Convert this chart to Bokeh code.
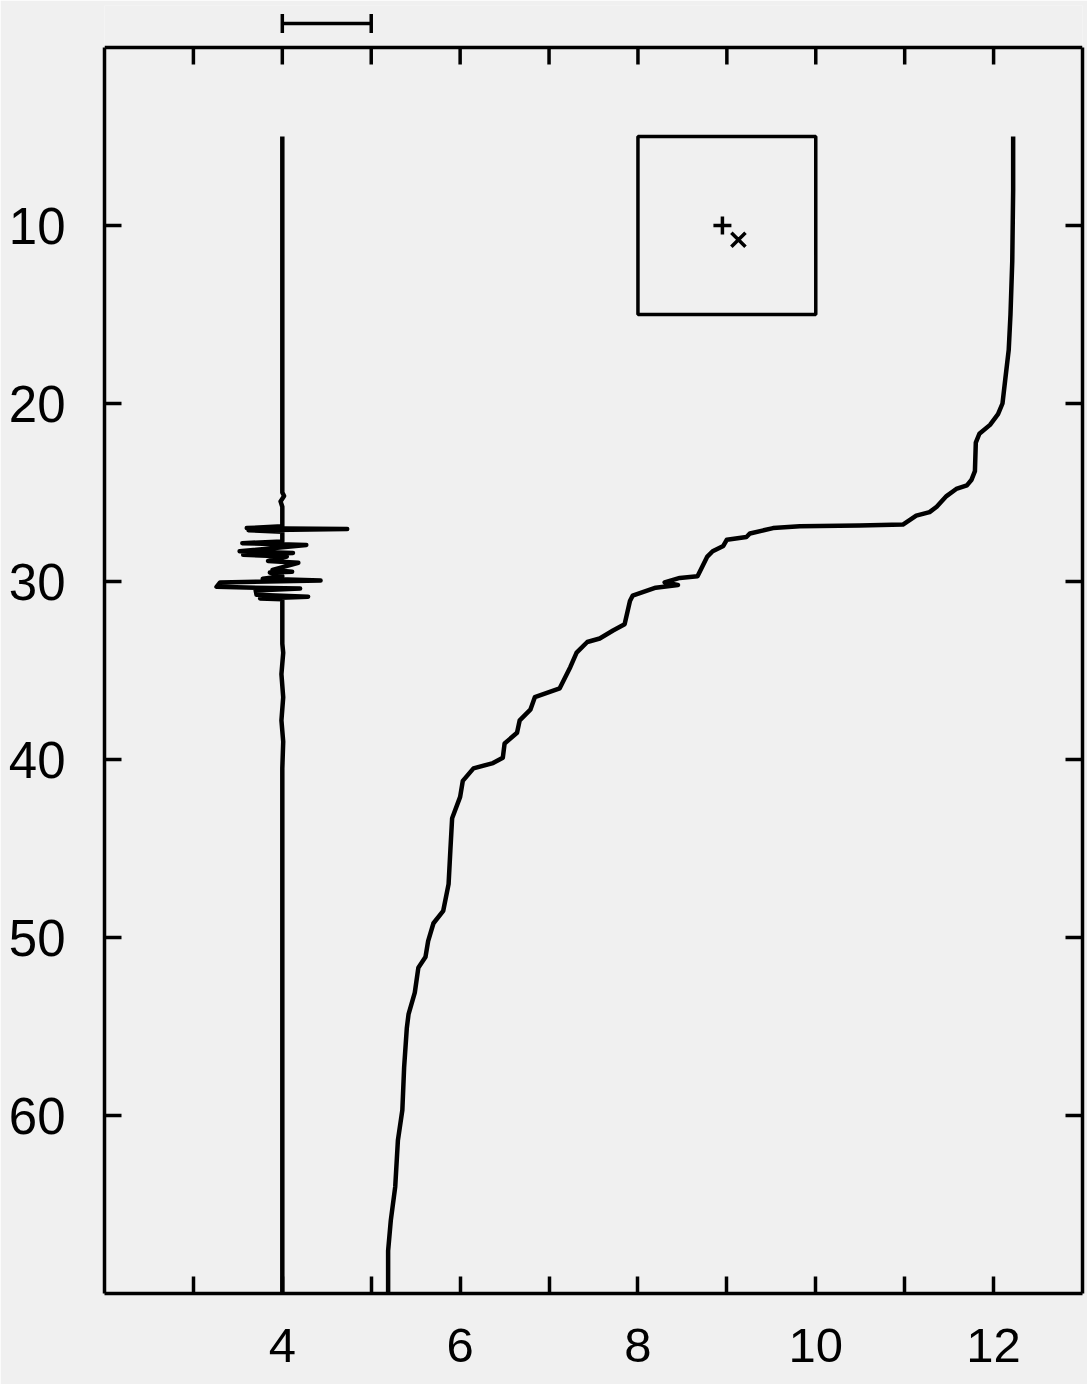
from bokeh.plotting import figure
from bokeh.models import Range1d, LinearAxis, FixedTicker
from bokeh.embed import file_html
from bokeh.resources import INLINE

# ---------------- data ----------------
# main profile (x value, depth)
profile_x = [12.22, 12.22, 12.21, 12.19, 12.17, 12.13, 12.10, 12.05, 11.96, 11.84,
             11.80, 11.79, 11.75, 11.70, 11.58, 11.47, 11.36, 11.28, 11.13, 10.98,
             10.49, 9.82, 9.52, 9.26, 9.22, 9.00, 8.96, 8.84, 8.78, 8.73,
             8.67, 8.47, 8.30, 8.45, 8.20, 7.94, 7.91, 7.85, 7.72, 7.57,
             7.43, 7.31, 7.24, 7.12, 6.84, 6.79, 6.67, 6.64, 6.50, 6.48,
             6.37, 6.15, 6.03, 6.00, 5.91, 5.89, 5.87, 5.81, 5.70, 5.64,
             5.61, 5.53, 5.49, 5.42, 5.40, 5.37, 5.35, 5.30, 5.27, 5.22,
             5.19, 5.19]
profile_depth = [5.0, 8.0, 12.0, 15.0, 17.0, 18.7, 20.0, 20.6, 21.2, 21.7,
                 22.2, 23.8, 24.3, 24.6, 24.8, 25.2, 25.8, 26.1, 26.3, 26.8,
                 26.85, 26.9, 27.0, 27.3, 27.5, 27.65, 28.0, 28.3, 28.6, 29.1,
                 29.7, 29.8, 30.05, 30.2, 30.35, 30.8, 31.1, 32.4, 32.75, 33.2,
                 33.4, 34.0, 34.8, 36.0, 36.5, 37.2, 37.8, 38.5, 39.1, 39.9,
                 40.2, 40.5, 41.2, 42.1, 43.3, 45.1, 47.0, 48.5, 49.2, 50.2,
                 51.1, 51.7, 53.1, 54.3, 55.1, 57.3, 59.7, 61.4, 64.0, 65.9,
                 67.6, 70.0]

# fluctuation trace around x = 4
trace_x = [4.00, 4.00, 4.02, 3.98, 4.00, 4.00,
           3.60, 4.73, 3.62, 4.00,
           4.00, 3.55, 4.27, 3.52, 4.12, 3.56, 4.05,
           3.84, 4.18, 3.89, 4.11, 3.86, 4.00,
           3.78, 4.43, 3.30, 3.26, 4.20, 3.70,
           3.71, 4.29, 3.75, 4.00,
           4.00, 4.01, 3.99, 4.01, 3.99, 4.01, 4.00, 4.00]
trace_depth = [5.0, 25.0, 25.2, 25.5, 25.8, 26.9,
               27.0, 27.05, 27.12, 27.2,
               27.75, 27.85, 27.95, 28.3, 28.4, 28.5, 28.6,
               28.85, 28.95, 29.35, 29.45, 29.5, 29.7,
               29.85, 29.95, 30.05, 30.3, 30.4, 30.5,
               30.75, 30.85, 30.95, 31.0,
               33.5, 34.0, 35.2, 36.5, 37.8, 39.0, 40.5, 70.0]

# inset box and markers
box_x = [8.0, 10.0]
box_depth = [5.0, 15.0]
plus_x, plus_depth = [8.95], [10.0]
cross_x, cross_depth = [9.13], [10.8]

# scale bar above the frame
scale_x = [4.0, 5.0]
scale_depth = -1.35
scale_cap = 0.53

# axes / frame
frame_x = [2.0, 13.0]
frame_depth = [0.0, 70.0]
top_space = -2.36
x_ticks = [3, 4, 5, 6, 7, 8, 9, 10, 11, 12]
x_labels = {3: "", 4: "4", 5: "", 6: "6", 7: "", 8: "8", 9: "", 10: "10", 11: "", 12: "12"}
y_ticks = [10, 20, 30, 40, 50, 60]
tick_len = 0.95

# ---------------- figure ----------------
BG = "#f0f0f0"
LW = 3.5
p = figure(width=1087, height=1384,
           x_range=Range1d(frame_x[0], frame_x[1]),
           y_range=Range1d(frame_depth[1], top_space),
           output_backend="svg", toolbar_location=None,
           x_axis_location=None, y_axis_location=None,
           min_border_left=104, min_border_right=5, min_border_top=5, min_border_bottom=91)
p.background_fill_color = BG
p.border_fill_color = BG
p.grid.visible = False
p.outline_line_color = None

FONT = "Liberation Sans"

def style_axis(ax, ticks, size):
    ax.ticker = FixedTicker(ticks=ticks)
    ax.axis_line_width = LW
    ax.axis_line_color = "black"
    ax.major_tick_in = 17
    ax.major_tick_out = 0
    ax.major_tick_line_width = LW
    ax.minor_tick_line_color = None
    ax.major_label_text_font = FONT
    ax.major_label_text_font_size = size
    ax.major_label_text_color = "black"

bottom = LinearAxis()
style_axis(bottom, x_ticks, "49px")
bottom.major_label_overrides = x_labels
bottom.major_label_standoff = 35
p.add_layout(bottom, "below")

left = LinearAxis()
style_axis(left, y_ticks, "51px")
left.bounds = (frame_depth[0], frame_depth[1])
left.major_label_standoff = 39
p.add_layout(left, "left")

right = LinearAxis()
style_axis(right, y_ticks, "1px")
right.bounds = (frame_depth[0], frame_depth[1])
right.major_label_overrides = {t: "" for t in y_ticks}
right.major_label_standoff = 0
p.add_layout(right, "right")

# top edge of the frame with its inward ticks
p.segment(x0=[frame_x[0]], y0=[frame_depth[0]], x1=[frame_x[1]], y1=[frame_depth[0]],
          line_color="black", line_width=LW)
p.segment(x0=x_ticks, y0=[frame_depth[0]] * len(x_ticks), x1=x_ticks,
          y1=[frame_depth[0] + tick_len] * len(x_ticks), line_color="black", line_width=LW)

# traces
p.line(trace_x, trace_depth, line_color="black", line_width=4.5, line_join="round")
p.line(profile_x, profile_depth, line_color="black", line_width=4.5, line_join="round")

# inset box and markers
p.quad(left=[box_x[0]], right=[box_x[1]], top=[box_depth[0]], bottom=[box_depth[1]],
       fill_color=None, line_color="black", line_width=LW)
p.scatter(plus_x, plus_depth, marker="cross", size=18, line_color="black", line_width=3.5)
p.scatter(cross_x, cross_depth, marker="x", size=20, line_color="black", line_width=3.5)

# scale bar
p.segment(x0=[scale_x[0]], y0=[scale_depth], x1=[scale_x[1]], y1=[scale_depth],
          line_color="black", line_width=LW)
p.segment(x0=scale_x, y0=[scale_depth - scale_cap] * 2, x1=scale_x,
          y1=[scale_depth + scale_cap] * 2, line_color="black", line_width=LW)

open("out.html", "w").write(file_html(p, INLINE))
